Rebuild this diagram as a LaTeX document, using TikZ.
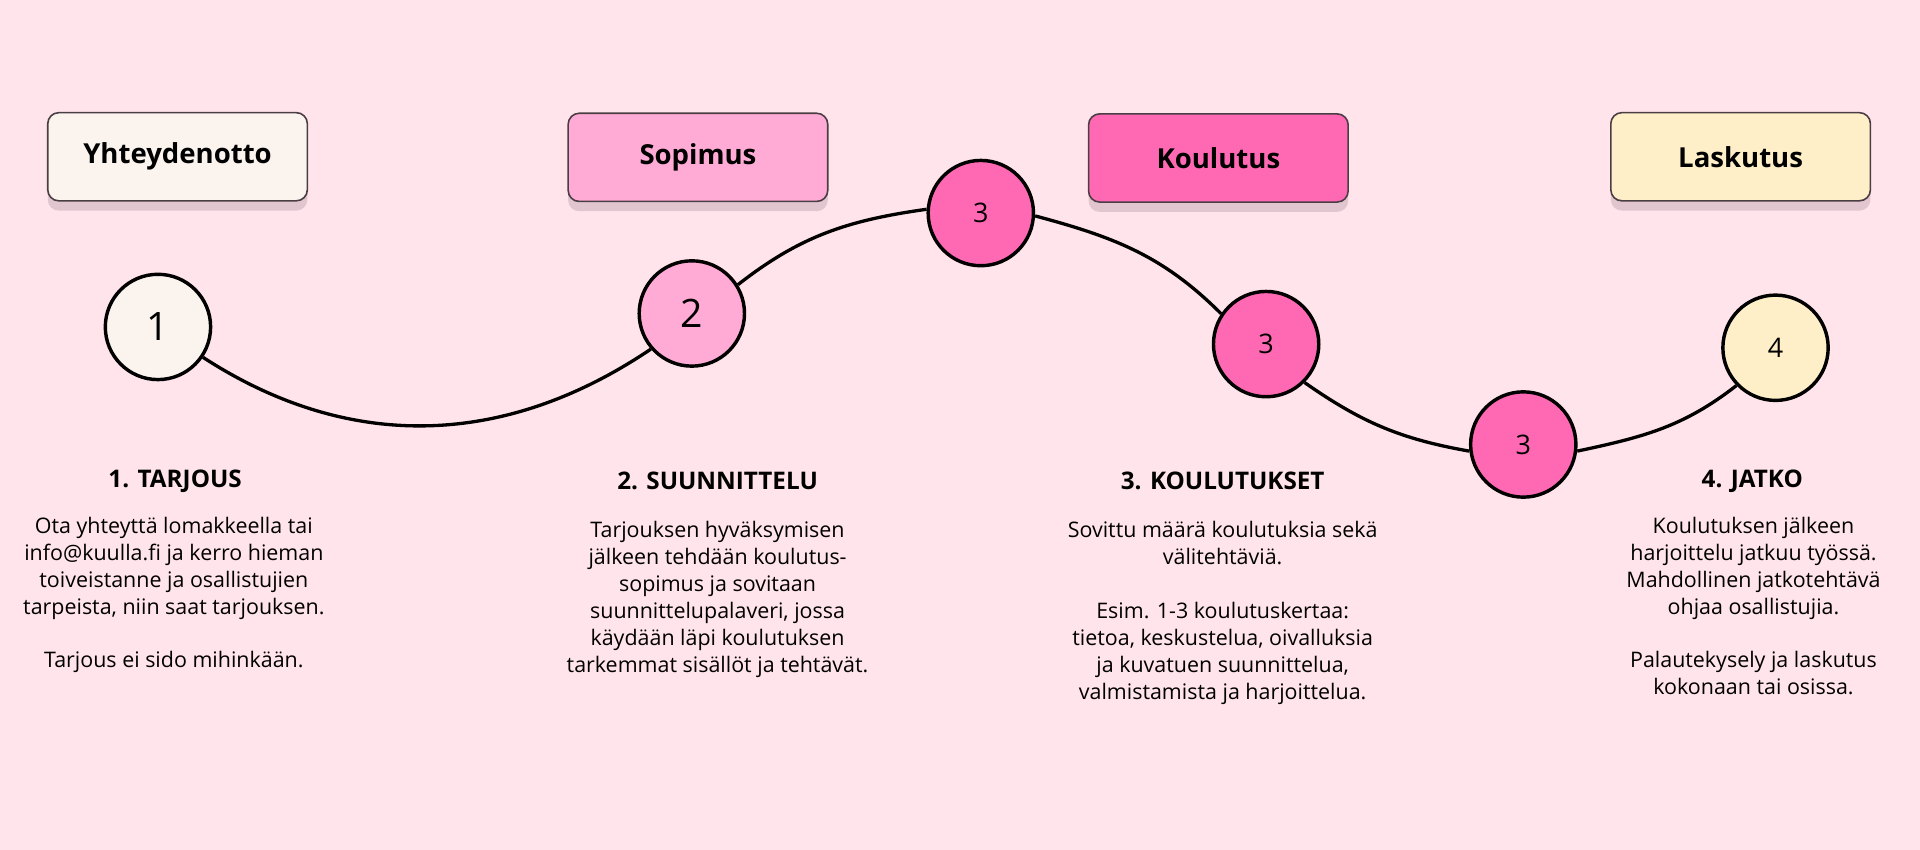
\documentclass[tikz,border=0pt]{standalone}
\usepackage{fontspec}
\setmainfont{Open Sans}
\usetikzlibrary{shadows}
\definecolor{bgc}{HTML}{FFE4EC}
\definecolor{cA}{HTML}{FAF3EE}
\definecolor{cB}{HTML}{FFABD6}
\definecolor{cC}{HTML}{FF69B4}
\definecolor{cD}{HTML}{FFEFC9}
\definecolor{shc}{HTML}{E2C6CF}
\definecolor{bord}{HTML}{4A3E44}
\tikzset{
 titlebox/.style={draw=bord, line width=1.3pt, rounded corners=9pt, minimum width=212pt, minimum height=72pt, inner sep=0pt, font=\fontsize{22.5}{22.5}\selectfont\bfseries, drop shadow={shadow xshift=0pt, shadow yshift=-8pt, fill=shc, opacity=1}},
 circ/.style={circle, draw=black, line width=2.8pt, minimum size=86pt, inner sep=0pt},
 bignum/.style={font=\fontsize{32}{32}\selectfont},
 smallnum/.style={font=\fontsize{22}{22}\selectfont},
 head/.style={font=\fontsize{19.8}{19.8}\selectfont\bfseries, inner sep=0pt},
 body/.style={font=\fontsize{17.5}{22}\selectfont, align=center, inner sep=0pt, anchor=north},
 conn/.style={line width=2.7pt, draw=black},
}
\begin{document}
\begin{tikzpicture}[x=1pt,y=1pt]
\fill[bgc] (0,0) rectangle (1568,-694);
\useasboundingbox (0,0) rectangle (1568,-694);

% title boxes
\node[titlebox, fill=cA] (b1) at (145,-128) {Yhteydenotto};
\node[titlebox, fill=cB] (b2) at (570,-128.5) {Sopimus};
\node[titlebox, fill=cC] (b3) at (995,-129) {Koulutus};
\node[titlebox, fill=cD] (b4) at (1421.5,-128) {Laskutus};

% circles
\node[circ, bignum, fill=cA] (n1) at (129,-267) {1};
\node[circ, bignum, fill=cB] (n2) at (565,-256) {2};
\node[circ, smallnum, fill=cC] (n3a) at (801,-174) {3};
\node[circ, smallnum, fill=cC] (n3b) at (1034,-281) {3};
\node[circ, smallnum, fill=cC] (n3c) at (1244,-363) {3};
\node[circ, smallnum, fill=cD] (n4) at (1450,-284) {4};

% connectors
\draw[conn] (n1.-34) to[out=-33,in=214] (n2.221);
\draw[conn] (n2.32) to[out=38,in=188] (n3a.176);
\draw[conn] (n3a.-3) to[out=-15,in=135] (n3b.146);
\draw[conn] (n3b.-45) to[out=-35,in=170] (n3c.187);
\draw[conn] (n3c.-7) to[out=12,in=218] (n4.224);

% headings
\node[head] (h1) at (143,-393) {1. TARJOUS};
\node[head] (h2) at (586,-393) {2. SUUNNITTELU};
\node[head] (h3) at (998.5,-393) {3. KOULUTUKSET};
\node[head] (h4) at (1431,-393) {4. JATKO};

% body texts
\node[body] (t1) at (142,-422) {Ota yhteyttä lomakkeella tai\\info@kuulla.fi ja kerro hieman\\toiveistanne ja osallistujien\\tarpeista, niin saat tarjouksen.\\[22pt]Tarjous ei sido mihinkään.};
\node[body] (t2) at (586,-425.5) {Tarjouksen hyväksymisen\\jälkeen tehdään koulutus-\\sopimus ja sovitaan\\suunnittelupalaveri, jossa\\käydään läpi koulutuksen\\tarkemmat sisällöt ja tehtävät.};
\node[body] (t3) at (998.5,-425.5) {Sovittu määrä koulutuksia sekä\\välitehtäviä.\\[22pt]Esim. 1-3 koulutuskertaa:\\tietoa, keskustelua, oivalluksia\\ja kuvatuen suunnittelua,\\valmistamista ja harjoittelua.};
\node[body] (t4) at (1432,-422) {Koulutuksen jälkeen\\harjoittelu jatkuu työssä.\\Mahdollinen jatkotehtävä\\ohjaa osallistujia.\\[22pt]Palautekysely ja laskutus\\kokonaan tai osissa.};
\end{tikzpicture}
\end{document}
